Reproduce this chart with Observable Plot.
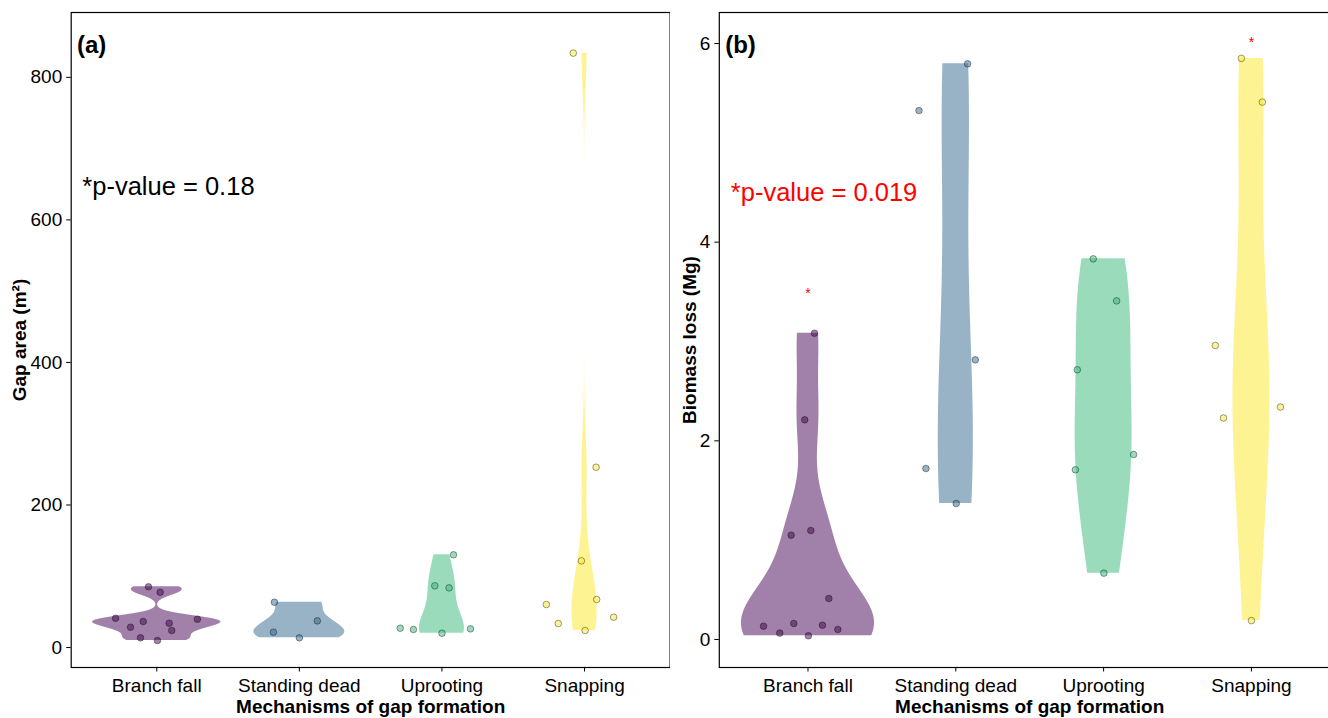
<!DOCTYPE html>
<html><head><meta charset="utf-8">
<script src="https://cdn.jsdelivr.net/npm/d3@7"></script>
<script src="https://cdn.jsdelivr.net/npm/@observablehq/plot@0.6"></script>
<style>
html,body{margin:0;padding:0;background:#fff;overflow:hidden;width:1328px;height:718px;}
#a,#b{position:absolute;top:0;width:670px;height:718px;}
#a{left:0;} #b{left:670px;}
svg{font-family:"Liberation Sans",Arial,sans-serif;color:#000;max-width:none !important;}
</style></head><body><div id="a"></div><div id="b"></div>
<script>
// ---------- data ----------
const categories = ["Branch fall", "Standing dead", "Uprooting", "Snapping"];
const colors = ["#440154", "#31688E", "#35B779", "#FDE725"];

// Panel (a): gap area (m²) per mechanism, with horizontal jitter (category units)
const areaBranch   = [41.1, 28.5, 36.5, 13.6, 9.8, 85.2, 77.6, 34.1, 23.9, 39.8];
const areaBranchJ  = [-0.289, -0.184, -0.095, -0.114, 0.005, -0.058, 0.024, 0.087, 0.105, 0.285];
const areaStanding  = [63.6, 37.4, 21.5, 13.6];
const areaStandingJ = [-0.175, 0.126, -0.182, 0.0];
const areaUproot   = [27.1, 25.3, 20.1, 26.2, 86.6, 83.7, 130.1];
const areaUprootJ  = [-0.293, -0.2, 0.0, 0.2, -0.05, 0.05, 0.081];
const areaSnap     = [121.6, 67.4, 60.4, 33.7, 42.6, 23.9, 253, 834];
const areaSnapJ    = [-0.022, 0.085, -0.268, -0.184, 0.204, 0.004, 0.081, -0.079];

// Panel (b): biomass loss (Mg)
const bioBranch   = [3.083, 2.211, 1.050, 1.097, 0.413, 0.134, 0.064, 0.161, 0.144, 0.101, 0.037];
const bioBranchJ  = [0.044, -0.022, -0.114, 0.019, 0.141, -0.301, -0.191, -0.096, 0.098, 0.202, 0.003];
const bioStanding  = [5.795, 5.325, 2.815, 1.721, 1.369];
const bioStandingJ = [0.08, -0.249, 0.132, -0.202, 0.003];
const bioUproot   = [3.832, 3.409, 2.715, 1.862, 1.708, 0.668];
const bioUprootJ  = [-0.07, 0.088, -0.178, 0.203, -0.191, 0.002];
const bioSnap     = [5.85, 5.41, 2.96, 2.34, 2.23, 0.19];
const bioSnapJ    = [-0.068, 0.074, -0.244, 0.196, -0.189, 0.0];

const gapTicks = [0, 200, 400, 600, 800];
const bioTicks = [0, 2, 4, 6];

// significance markers (panel b)
const bioStars = [{g: 0, y: 3.48}, {g: 3, y: 6.01}];

// ---------- violin density (as ggplot2: gaussian kernel, bw.nrd0, trimmed, scale = "area") ----------
function nrd0(x) {
  const s = x.slice().sort(d3.ascending);
  const hi = d3.deviation(s);
  const iqr = d3.quantileSorted(s, 0.75) - d3.quantileSorted(s, 0.25);
  let lo = Math.min(hi, iqr / 1.34);
  if (!(lo > 0)) lo = hi || Math.abs(s[0]) || 1;
  return 0.9 * lo * Math.pow(s.length, -0.2);
}
function density(x) {
  const bw = nrd0(x), n = x.length;
  const [mn, mx] = d3.extent(x);
  const out = [];
  for (let i = 0; i < 512; i++) {
    const y = mn + (mx - mn) * i / 511;
    let d = 0;
    for (const xi of x) { const z = (y - xi) / bw; d += Math.exp(-0.5 * z * z); }
    out.push({y, d: d / (n * bw * Math.sqrt(2 * Math.PI))});
  }
  return out;
}

function panel({groups, jitters, yDomain, yTicks, yLabel, tag, tagY, pText, pY, pColor, stars, marginLeft, yTitleDx}) {
  const dens = groups.map(density);
  const maxD = d3.max(dens.flat(), d => d.d);
  const violin = dens.flatMap((arr, g) => arr.map(p => ({
    g, y: p.y, x1: g + 1 - 0.45 * p.d / maxD, x2: g + 1 + 0.45 * p.d / maxD
  })));
  const pts = groups.flatMap((vals, g) => vals.map((v, i) => ({g, v, x: g + 1 + jitters[g][i]})));
  const W = 670;
  return Plot.plot({
    width: W, height: 718,
    marginTop: 12, marginBottom: 51, marginLeft, marginRight: 0.4,
    x: {domain: [0.4, 4.6], axis: null},
    y: {domain: yDomain, axis: null},
    style: {background: "white", color: "black", fontFamily: "'Liberation Sans', Arial, sans-serif", maxWidth: "none"},
    marks: [
      Plot.areaX(violin, {y: "y", x1: "x1", x2: "x2", z: "g", fill: d => colors[d.g], fillOpacity: 0.5, curve: "linear"}),
      Plot.dot(pts, {x: "x", y: "v", r: 3.3, fill: d => colors[d.g], fillOpacity: 0.5, stroke: "black", strokeOpacity: 0.55, strokeWidth: 0.7}),
      Plot.text(stars, {x: d => d.g + 1, y: "y", text: () => "*", fill: "red", fontSize: 14}),
      Plot.text([tag], {x: 0.44, y: tagY, text: d => d, textAnchor: "start", fontWeight: "bold", fontSize: 24}),
      Plot.text([pText], {x: 0.478, y: pY, text: d => d, textAnchor: "start", fill: pColor, fontSize: 25.5}),
      Plot.frame({stroke: "black", strokeWidth: 1.2}),
      Plot.axisY(yTicks, {tickSize: 4.5, tickPadding: 4.5, fontSize: 19, label: null, tickFormat: d => String(d)}),
      Plot.axisX([1, 2, 3, 4], {tickFormat: i => categories[i - 1], tickSize: 4.5, tickPadding: 6, fontSize: 19, label: null}),
      Plot.text(["Mechanisms of gap formation"], {frameAnchor: "bottom", dy: 45, lineAnchor: "bottom", textAnchor: "middle", text: d => d, fontWeight: "bold", fontSize: 19}),
      Plot.text([yLabel], {frameAnchor: "left", dx: yTitleDx, rotate: -90, textAnchor: "middle", lineAnchor: "middle", text: d => d, fontWeight: "bold", fontSize: 19})
    ]
  });
}

document.getElementById("a").append(panel({
  groups: [areaBranch, areaStanding, areaUproot, areaSnap],
  jitters: [areaBranchJ, areaStandingJ, areaUprootJ, areaSnapJ],
  yDomain: [-28, 891], yTicks: gapTicks, yLabel: "Gap area (m²)",
  tag: "(a)", tagY: 845, pText: "*p-value = 0.18", pY: 647, pColor: "black",
  stars: [], marginLeft: 70.7, yTitleDx: -51
}));
document.getElementById("b").append(panel({
  groups: [bioBranch, bioStanding, bioUproot, bioSnap],
  jitters: [bioBranchJ, bioStandingJ, bioUprootJ, bioSnapJ],
  yDomain: [-0.282, 6.312], yTicks: bioTicks, yLabel: "Biomass loss (Mg)",
  tag: "(b)", tagY: 5.98, pText: "*p-value = 0.019", pY: 4.50, pColor: "red",
  stars: bioStars, marginLeft: 48.8, yTitleDx: -29
}));
</script></body></html>
